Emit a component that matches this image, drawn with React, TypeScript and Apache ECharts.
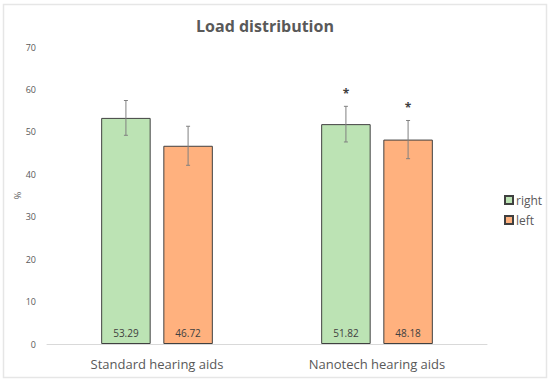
import React, { useEffect, useRef } from "react";
import * as echarts from "echarts";

const categories = ["Standard hearing aids", "Nanotech hearing aids"];
const rightValues = [53.29, 51.82];
const leftValues = [46.72, 48.18];
const rightErr = [4.1, 4.2];
const leftErr = [4.6, 4.5];
const significance = ["", "*"];
const seriesNames = ["right", "left"];
const yTicks = { min: 0, max: 70, interval: 10 };

const FONT = "'Open Sans', 'Liberation Sans', sans-serif";
const GREEN = "#BCE3B4";
const ORANGE = "#FFB17E";

export default function App() {
  const ref = useRef<HTMLDivElement>(null);
  useEffect(() => {
    if (!ref.current) return;
    const chart = echarts.init(ref.current, undefined, { renderer: "svg" });
    const barW = 0.225;
    const gapRatio = 0.256;
    const half = (barW + barW * gapRatio) / 2;

    const errData: any[] = [];
    categories.forEach((_, i) => {
      errData.push([i, rightValues[i] - rightErr[i], rightValues[i] + rightErr[i], -1, significance[i]]);
      errData.push([i, leftValues[i] - leftErr[i], leftValues[i] + leftErr[i], 1, significance[i]]);
    });

    const labelOpt = {
      show: true,
      position: "insideBottom",
      distance: 6,
      fontFamily: FONT,
      fontSize: 10,
      color: "#404040",
      formatter: (p: any) => p.value.toFixed(2),
    };

    chart.setOption({
      animation: false,
      backgroundColor: "#ffffff",
      title: {
        text: "Load distribution",
        left: 260,
        textAlign: "center",
        top: 13,
        textStyle: { fontFamily: FONT, fontSize: 16, fontWeight: "bold", color: "#595959" },
      },
      legend: {
        orient: "vertical",
        left: 499,
        top: 189,
        itemWidth: 8,
        itemHeight: 8,
        itemGap: 8,
        icon: "rect",
        data: seriesNames,
        textStyle: { fontFamily: FONT, fontSize: 12, color: "#595959", padding: [0, 0, 0, -2] },
      },
      grid: { left: 47, right: 63, top: 47, bottom: 40 },
      xAxis: {
        type: "category",
        data: categories,
        axisLine: { lineStyle: { color: "#D9D9D9", width: 1 } },
        axisTick: { show: false },
        axisLabel: { fontFamily: FONT, fontSize: 13, color: "#595959", margin: 13 },
      },
      yAxis: {
        type: "value",
        min: yTicks.min,
        max: yTicks.max,
        interval: yTicks.interval,
        name: "%",
        nameLocation: "middle",
        nameGap: 25,
        nameMoveOverlap: false,
        nameRotate: 90,
        nameTextStyle: { fontFamily: FONT, fontSize: 9, color: "#595959" },
        axisLine: { show: false },
        axisTick: { show: false },
        splitLine: { show: false },
        axisLabel: { fontFamily: FONT, fontSize: 9, color: "#595959", margin: 11 },
      },
      graphic: [
        {
          type: "rect",
          shape: { x: 3.5, y: 4.5, width: 543, height: 373 },
          style: { fill: "none", stroke: "#E6E6E6", lineWidth: 1.5 },
          silent: true,
        },
      ],
      series: [
        {
          name: seriesNames[0],
          type: "bar",
          data: rightValues,
          barWidth: barW * 100 + "%",
          barGap: gapRatio * 100 + "%",
          itemStyle: { color: GREEN, borderColor: "#404040", borderWidth: 1 },
          label: labelOpt,
        },
        {
          name: seriesNames[1],
          type: "bar",
          data: leftValues,
          barWidth: barW * 100 + "%",
          barGap: gapRatio * 100 + "%",
          itemStyle: { color: ORANGE, borderColor: "#404040", borderWidth: 1 },
          label: labelOpt,
        },
        {
          type: "custom",
          data: errData,
          z: 10,
          encode: { x: 0, y: [1, 2] },
          renderItem: (params: any, api: any) => {
            const cat = api.value(0);
            const lo = api.value(1);
            const hi = api.value(2);
            const side = api.value(3);
            const sig = errData[params.dataIndex][4];
            const band = api.size([1, 0])[0];
            const pLo = api.coord([cat, lo]);
            const pHi = api.coord([cat, hi]);
            const x = pLo[0] + side * half * band;
            const cap = 2;
            const st = { stroke: "#808080", lineWidth: 1 };
            const children: any[] = [
              { type: "line", shape: { x1: x, y1: pLo[1], x2: x, y2: pHi[1] }, style: st },
              { type: "line", shape: { x1: x - cap, y1: pLo[1], x2: x + cap, y2: pLo[1] }, style: st },
              { type: "line", shape: { x1: x - cap, y1: pHi[1], x2: x + cap, y2: pHi[1] }, style: st },
            ];
            if (sig) {
              children.push({
                type: "text",
                style: {
                  text: sig,
                  x: x,
                  y: pHi[1] - 13,
                  align: "center",
                  verticalAlign: "middle",
                  fontFamily: FONT,
                  fontSize: 12,
                  fontWeight: "bold",
                  fill: "#404040",
                },
              });
            }
            return { type: "group", children };
          },
        },
      ],
    });
    return () => chart.dispose();
  }, []);
  return <div ref={ref} style={{ width: 550, height: 384, position: "absolute", left: 0, top: 0 }} />;
}
